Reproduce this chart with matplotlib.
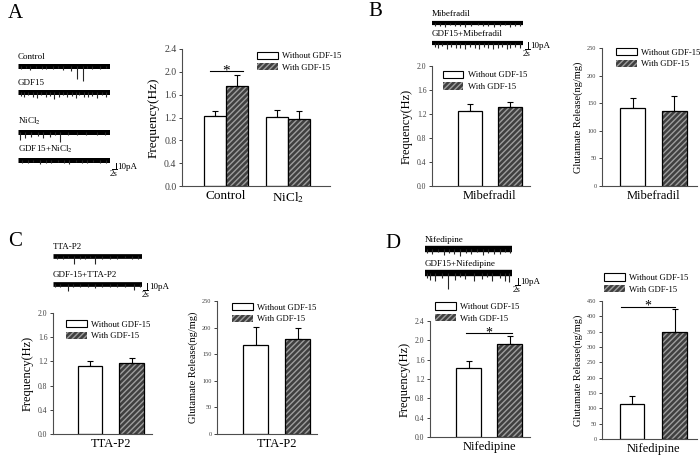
"""Four-panel GDF-15 figure: sEPSC traces plus bar charts of frequency and glutamate release."""

import matplotlib

matplotlib.use("Agg")
import matplotlib.pyplot as plt  # noqa: E402
from matplotlib.patches import Patch  # noqa: E402

plt.rcParams["font.family"] = ["Liberation Serif", "DejaVu Serif"]
plt.rcParams["mathtext.fontset"] = "stix"

# ---- bar data -------------------------------------------------------------
freq_a_groups = ["Control", "NiCl$_2$"]
freq_a_without = [1.22, 1.21]
freq_a_without_err = [0.09, 0.12]
freq_a_with = [1.76, 1.18]
freq_a_with_err = [0.19, 0.13]

freq_b_without, freq_b_without_err = [1.25], [0.12]
freq_b_with, freq_b_with_err = [1.31], [0.09]
glut_b_without, glut_b_without_err = [141], [19]
glut_b_with, glut_b_with_err = [135], [28]

freq_c_without, freq_c_without_err = [1.13], [0.08]
freq_c_with, freq_c_with_err = [1.17], [0.09]
glut_c_without, glut_c_without_err = [167], [35]
glut_c_with, glut_c_with_err = [178], [22]

freq_d_without, freq_d_without_err = [1.42], [0.15]
freq_d_with, freq_d_with_err = [1.93], [0.16]
glut_d_without, glut_d_without_err = [115], [25]
glut_d_with, glut_d_with_err = [350], [75]

# ---- trace events (time in s, amplitude in pA) ------------------------------
TRACE_LEN = 36
control_t = [1.3, 3.0, 4.6, 7.0, 9.2, 11.1, 13.7, 15.5, 17.7, 20.9, 22.9, 25.5,
             27.0, 28.8, 32.1, 34.5]
control_a = [5, 3, 6, 3, 4, 5, 4, 3, 6, 7, 20, 23, 3, 5, 4, 3]
gdf15_t = [1, 2.5, 4, 6, 7.5, 9, 11, 12.5, 14, 16, 17.5, 19, 21, 22.5, 24, 26,
           27.5, 29, 31, 33, 34.5]
gdf15_a = [6, 8, 5, 7, 9, 5, 8, 6, 10, 7, 5, 8, 6, 9, 5, 7, 8, 6, 9, 5, 7]
nicl_t = [0.7, 2.6, 5.2, 7.9, 9.8, 12.4, 14.5, 16.4, 19.6, 22.9, 26.8, 30.8, 34.0]
nicl_a = [12, 9, 8, 6, 9, 7, 4, 16, 5, 5, 4, 5, 4]
gdf_nicl_t = [1.5, 4, 6, 8.5, 11, 13, 15.5, 18, 20, 22.5, 25, 27, 29.5, 32, 34.5]
gdf_nicl_a = [4, 5, 3, 6, 4, 5, 3, 4, 6, 3, 5, 4, 3, 5, 4]
mibe_t = [1, 3, 5, 7, 9, 11, 13, 15.5, 18, 20, 22, 24.5, 27, 29, 31, 33, 35]
mibe_a = [5, 4, 6, 3, 5, 4, 6, 4, 3, 5, 4, 6, 5, 3, 6, 4, 5]
gdf_mibe_t = [1, 2.5, 4, 6, 7.5, 9.5, 11, 13, 15, 17, 18.5, 20.5, 22, 24, 26,
              27.5, 29.5, 31, 33, 35]
gdf_mibe_a = [6, 8, 5, 9, 6, 7, 8, 10, 6, 7, 9, 6, 8, 10, 7, 6, 9, 7, 6, 8]
tta_t = [1.5, 4, 6, 8.5, 11, 13, 15, 17, 20, 23, 26, 29, 32, 34.5]
tta_a = [4, 5, 3, 12, 4, 5, 3, 12, 4, 5, 4, 3, 5, 4]
gdf_tta_t = [1, 3, 5.9, 8, 11, 14, 17, 20, 23, 26, 29, 32.7, 35]
gdf_tta_a = [4, 5, 10, 4, 5, 4, 6, 4, 5, 4, 5, 9, 4]
nife_t = [1, 3, 5.5, 8, 10, 12, 14.5, 17, 19, 21.5, 24, 26, 28.5, 31, 33, 35]
nife_a = [6, 8, 5, 9, 6, 7, 10, 6, 8, 5, 9, 6, 7, 8, 5, 6]
gdf_nife_t = [1.0, 2.1, 4.2, 6.9, 9.7, 12.5, 14.5, 16.6, 20.1, 23.5, 25.5, 27.7,
              31.2, 33.2, 34.6]
gdf_nife_a = [7, 10, 12, 8, 25, 10, 6, 9, 12, 9, 6, 13, 8, 12, 14]

W, H = 700, 455
fig = plt.figure(figsize=(W / 100, H / 100), dpi=100)


def px_axes(left, top, right, bottom):
    return fig.add_axes([left / W, 1 - bottom / H, (right - left) / W, (bottom - top) / H])


def px_text(x, y, s, **kw):
    fig.text(x / W, 1 - y / H, s, **kw)


def draw_trace(x0, x1, y_base, times, amps, label, band=3.4, scalebar=None):
    """One current trace; 1 pA = 0.65 px on screen."""
    ppa = 0.65
    ax = px_axes(x0, y_base - 8, x1, y_base + 22)
    ax.set_xlim(0, TRACE_LEN)
    ax.set_ylim(-22 / ppa, 8 / ppa)
    ax.axis("off")
    ax.plot([0, TRACE_LEN], [0, 0], color="black", lw=band, solid_capstyle="butt")
    ax.vlines(times, [-a for a in amps], 0, color="0.15", lw=0.8)
    ax.text(0, 27 / 30, label, transform=ax.transAxes, fontsize=6.5, va="bottom",
            ha="left")
    if scalebar is not None:
        dx, yb = scalebar
        tv = TRACE_LEN + dx
        ax.plot([tv, tv], [yb, yb + 10], color="black", lw=0.7, clip_on=False)
        ax.plot([tv - 1.4, tv + 0.6], [yb, yb], color="black", lw=0.7, clip_on=False)
        ax.text(tv + 0.8, yb + 10, "10pA", fontsize=6.5, va="top", ha="left")
        ax.text(tv - 0.6, yb - 1.5, "2s", fontsize=6.5, va="top", ha="center")
    return ax


def bar_panel(rect, xlim, ylim, yticks, fmt, centers, cats, without, without_err,
              with_, with_err, d, w, ylabel, ylabel_size, tick_size, cat_size,
              legend_xy, legend_size=6.2, sig=None):
    ax = px_axes(*rect)
    xw = [c - d / 2 for c in centers]
    xh = [c + d / 2 for c in centers]
    ax.errorbar(xw, without, yerr=[[0] * len(without), without_err], fmt="none",
                ecolor="black", elinewidth=0.8, capsize=2.5, capthick=0.8, zorder=1)
    ax.errorbar(xh, with_, yerr=[[0] * len(with_), with_err], fmt="none",
                ecolor="black", elinewidth=0.8, capsize=2.5, capthick=0.8, zorder=1)
    ax.bar(xw, without, width=w, color="white", edgecolor="black", lw=0.9, zorder=2)
    ax.bar(xh, with_, width=w, color="0.25", edgecolor="0.62", lw=0, hatch="//////",
           zorder=2)
    ax.bar(xh, with_, width=w, color="none", edgecolor="black", lw=0.9, zorder=3)
    ax.set_xlim(*xlim)
    ax.set_ylim(*ylim)
    ax.set_yticks(yticks)
    ax.set_yticklabels([fmt.format(t) for t in yticks], fontsize=tick_size)
    ax.set_xticks(centers)
    ax.set_xticklabels(cats, fontsize=cat_size)
    ax.tick_params(axis="x", length=0, pad=3)
    ax.tick_params(axis="y", length=2.5, width=0.7, pad=1.5, colors="0.25")
    for side in ("top", "right"):
        ax.spines[side].set_visible(False)
    for side in ("left", "bottom"):
        ax.spines[side].set_linewidth(0.8)
        ax.spines[side].set_color("0.3")
    ax.set_ylabel(ylabel, fontsize=ylabel_size, labelpad=3)
    handles = [
        Patch(facecolor="white", edgecolor="black", lw=0.8, label="Without GDF-15"),
        Patch(facecolor="0.25", edgecolor="0.62", hatch="//////", lw=0,
              label="With GDF-15"),
    ]
    ax.legend(handles=handles, loc="upper left", bbox_to_anchor=legend_xy,
              frameon=False, fontsize=legend_size, handlelength=2.4, handleheight=0.9,
              handletextpad=0.5, labelspacing=0.35, borderpad=0, borderaxespad=0)
    if sig is not None:
        (sx0, sx1, sy, star_size) = sig
        ax.plot([sx0, sx1], [sy, sy], color="black", lw=0.8)
        ax.text((sx0 + sx1) / 2, sy, "*", fontsize=star_size, ha="center",
                va="center")
    return ax


freq_ticks_20 = [0.0, 0.4, 0.8, 1.2, 1.6, 2.0]
freq_ticks_24 = [0.0, 0.4, 0.8, 1.2, 1.6, 2.0, 2.4]
glut_ticks_250 = [0, 50, 100, 150, 200, 250]
glut_ticks_450 = list(range(0, 451, 50))

# ---- panel A ---------------------------------------------------------------
px_text(8, 14, "A", fontsize=15, va="center")
draw_trace(18, 110, 66, control_t, control_a, "Control", band=3.6)
draw_trace(18, 110, 92, gdf15_t, gdf15_a, "GDF15", band=3.6)
draw_trace(18, 110, 132, nicl_t, nicl_a, "NiCl$_2$", band=3.6)
draw_trace(18, 110, 160, gdf_nicl_t, gdf_nicl_a, "GDF15+NiCl$_2$", band=3.6,
           scalebar=(2.2, -14))
bar_panel((182, 49, 330, 186), (-0.71, 1.68), (0, 2.4), freq_ticks_24, "{:.1f}",
          [0, 1], freq_a_groups, freq_a_without, freq_a_without_err, freq_a_with,
          freq_a_with_err, 0.363, 0.355, "Frequency(Hz)", 9.5, 7, 9.5,
          (0.51, 0.98), sig=(-0.26, 0.27, 2.02, 11))

# ---- panel B ---------------------------------------------------------------
px_text(368, 11, "B", fontsize=15, va="center")
draw_trace(432, 523, 23, mibe_t, mibe_a, "Mibefradil", band=3.0)
draw_trace(432, 523, 43, gdf_mibe_t, gdf_mibe_a, "GDF15+Mibefradil", band=3.0,
           scalebar=(2.0, -9))
bar_panel((432, 66, 530, 186), (-1.43, 0.99), (0, 2.0), freq_ticks_20, "{:.1f}",
          [0], ["Mibefradil"], freq_b_without, freq_b_without_err, freq_b_with,
          freq_b_with_err, 1.0, 0.6, "Frequency(Hz)", 9, 5.5, 9, (0.11, 0.96))
bar_panel((602, 48, 697, 186), (-1.23, 1.04), (0, 250), glut_ticks_250, "{:d}",
          [0], ["Mibefradil"], glut_b_without, glut_b_without_err, glut_b_with,
          glut_b_with_err, 1.0, 0.58, "Glutamate Release(ng/mg)", 7.5, 4.5, 9,
          (0.15, 1.0))

# ---- panel C ---------------------------------------------------------------
px_text(8, 241, "C", fontsize=15, va="center")
draw_trace(53, 142, 256, tta_t, tta_a, "TTA-P2", band=3.4)
draw_trace(53, 142, 284, gdf_tta_t, gdf_tta_a, "GDF-15+TTA-P2", band=3.4,
           scalebar=(2.0, -9))
bar_panel((53, 313, 152, 434), (-1.39, 0.99), (0, 2.0), freq_ticks_20, "{:.1f}",
          [0], ["TTA-P2"], freq_c_without, freq_c_without_err, freq_c_with,
          freq_c_with_err, 1.0, 0.59, "Frequency(Hz)", 9, 5.5, 9, (0.13, 0.94))
bar_panel((217, 301, 317, 434), (-1.42, 0.96), (0, 250), glut_ticks_250, "{:d}",
          [0], ["TTA-P2"], glut_c_without, glut_c_without_err, glut_c_with,
          glut_c_with_err, 1.0, 0.6, "Glutamate Release(ng/mg)", 7.5, 4.5, 9,
          (0.15, 0.985))

# ---- panel D ---------------------------------------------------------------
px_text(385, 243, "D", fontsize=15, va="center")
draw_trace(425, 512, 249, nife_t, nife_a, "Nifedipine", band=4.6)
draw_trace(425, 512, 273, gdf_nife_t, gdf_nife_a, "GDF15+Nifedipine", band=4.6,
           scalebar=(2.6, -18))
bar_panel((430, 321, 530, 437), (-1.44, 1.0), (0, 2.4), freq_ticks_24, "{:.1f}",
          [0], ["Nifedipine"], freq_d_without, freq_d_without_err, freq_d_with,
          freq_d_with_err, 1.0, 0.61, "Frequency(Hz)", 9, 5.5, 9, (0.05, 1.16),
          sig=(-0.56, 0.56, 2.16, 10))
bar_panel((602, 301, 697, 439), (-1.21, 1.03), (0, 450), glut_ticks_450, "{:d}",
          [0], ["Nifedipine"], glut_d_without, glut_d_without_err, glut_d_with,
          glut_d_with_err, 1.0, 0.57, "Glutamate Release(ng/mg)", 7.5, 4.5, 9,
          (0.02, 1.2), sig=(-0.76, 0.51, 432, 10))

fig.savefig("out.png", dpi=100)
